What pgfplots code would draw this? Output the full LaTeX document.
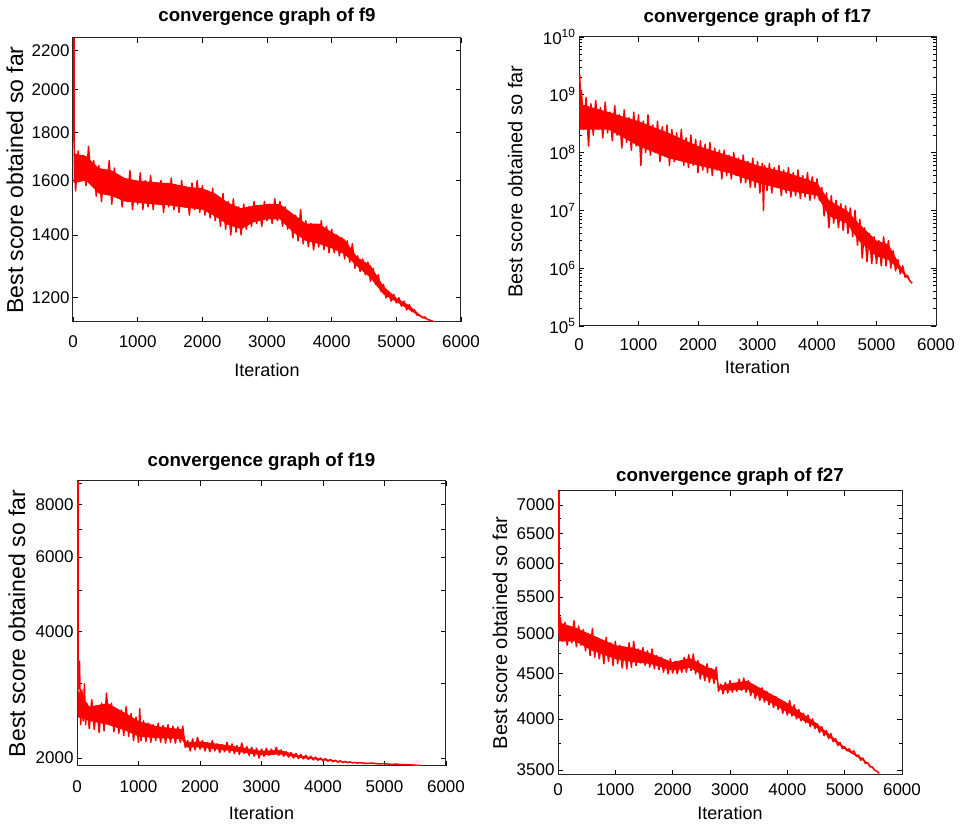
\documentclass[border=0pt]{standalone}
\usepackage{fontspec}
\setmainfont{Liberation Sans}
\usepackage{pgfplots}
\pgfplotsset{compat=1.18}
\pgfplotsset{
  conv/.style={
    scale only axis, anchor=south west, xmin=0, xmax=6000,
    xtick={0,1000,2000,3000,4000,5000,6000},
    /pgf/number format/assume math mode=true,
    /pgf/number format/1000 sep={},
    tick align=inside, major tick length=5pt, minor tick length=3pt,
    axis line style={line width=1pt, black!85},
    every tick/.style={black, line width=0.8pt},
    tick label style={font=\fontsize{17}{17}\selectfont},
    title style={font=\bfseries\fontsize{18.7}{19}\selectfont, anchor=center},
    xlabel style={font=\fontsize{18}{18}\selectfont, anchor=center},
    ylabel style={font=\fontsize{20}{20}\selectfont, anchor=center},
    xlabel=Iteration, ylabel=Best score obtained so far,
  },
  curve/.style={color=red, line width=1.5pt, line join=round, mark=none},
  core/.style={fill=red, draw=none, mark=none},
  spike/.style={color=red, line width=1.2pt, mark=none}
}
\begin{document}
\begin{tikzpicture}
\path[use as bounding box] (0pt,0pt) rectangle (961pt,828pt);

% ---------------- f9 ----------------
\begin{axis}[ymode=log, conv, at={(73pt,506pt)}, width=388pt, height=284pt,
  ymin=1131, ymax=2270, minor ytick={},
  ytick={1200,1400,1600,1800,2000,2200},
  yticklabels={1200,1400,1600,1800,2000,2200},
  xticklabel style={yshift=-10pt},
  title={convergence graph of f9},
  title style={at={(axis description cs:0.5,1.055)}},
  xlabel style={at={(axis description cs:0.5,-0.169)}},
  ylabel style={at={(axis description cs:-0.1495,0.5)}, font=\fontsize{23}{23}\selectfont}]
\addplot[core] coordinates {
(10,1710)(200,1700)(400,1650)(600,1640)(800,1610)(1000,1600)(1200,1595)(1500,1590)(1800,1575)(2000,1570)
(2200,1550)(2400,1515)(2600,1495)(2800,1505)(3000,1510)(3200,1510)(3400,1475)(3600,1440)(3800,1440)(4000,1410)
(4200,1385)(4400,1325)(4600,1300)(4800,1235)(5000,1200)(5200,1178)(5400,1146)(5600,1131)
(5400,1142)(5200,1165)(5000,1188)(4800,1210)(4600,1260)(4400,1295)(4200,1335)(4000,1355)(3800,1370)(3600,1380)
(3400,1410)(3200,1455)(3000,1455)(2800,1445)(2600,1420)(2400,1435)(2200,1465)(2000,1490)(1800,1495)(1500,1505)
(1200,1510)(1000,1515)(800,1520)(600,1540)(400,1550)(200,1600)(10,1590)
};
\addplot[spike] coordinates {(16,2270)(16,1760)};
\addplot[curve] coordinates {
(16,1760)(40,1560)(80,1720)(120,1600)(160,1700)(200,1580)(240,1740)(280,1600)(320,1680)
(360,1540)(400,1660)(440,1520)(480,1640)(520,1560)(560,1680)(600,1510)(640,1650)(680,1540)(720,1620)
(760,1500)(800,1600)(840,1520)(880,1640)(920,1490)(960,1590)(1000,1510)(1040,1630)(1080,1490)(1120,1600)
(1160,1500)(1200,1620)(1240,1490)(1280,1590)(1320,1510)(1360,1600)(1400,1480)(1440,1570)(1480,1500)(1520,1610)
(1560,1490)(1600,1580)(1640,1480)(1680,1600)(1720,1500)(1760,1570)(1800,1470)(1840,1590)(1880,1490)(1920,1600)
(1960,1480)(2000,1580)(2040,1470)(2080,1560)(2120,1460)(2160,1570)(2200,1450)(2240,1540)(2280,1430)(2320,1550)
(2360,1420)(2400,1520)(2440,1400)(2480,1530)(2520,1410)(2560,1500)(2600,1400)(2640,1510)(2680,1420)(2720,1500)
(2760,1430)(2800,1520)(2840,1440)(2880,1500)(2920,1430)(2960,1520)(3000,1450)(3040,1510)(3080,1440)(3120,1530)
(3160,1450)(3200,1520)(3240,1430)(3280,1500)(3320,1420)(3360,1480)(3400,1390)(3440,1470)(3480,1380)(3520,1490)
(3560,1370)(3600,1450)(3640,1360)(3680,1440)(3720,1350)(3760,1420)(3800,1360)(3840,1450)(3880,1350)(3920,1430)
(3960,1340)(4000,1420)(4040,1340)(4080,1400)(4120,1330)(4160,1390)(4200,1320)(4240,1380)(4280,1310)(4320,1370)
(4360,1290)(4400,1330)(4440,1280)(4480,1320)(4520,1270)(4560,1310)(4600,1250)(4640,1290)(4680,1240)(4720,1270)
(4760,1220)(4800,1240)(4840,1200)(4880,1215)(4920,1190)(4960,1210)(5000,1185)(5040,1200)(5080,1175)(5120,1190)
(5160,1165)(5200,1180)(5240,1160)(5280,1165)(5320,1150)(5360,1150)(5400,1143)(5440,1145)(5480,1138)(5520,1136)
(5560,1133)(5600,1131)
};
\end{axis}

% ---------------- f17 ----------------
\begin{axis}[ymode=log, conv, at={(579pt,502pt)}, width=357pt, height=289pt,
  ymin=1e5, ymax=1e10,
  ytick={1e5,1e6,1e7,1e8,1e9,1e10},
  yticklabels={10\textsuperscript{5},10\textsuperscript{6},10\textsuperscript{7},10\textsuperscript{8},10\textsuperscript{9},10\textsuperscript{10}},
  xticklabel style={yshift=-9pt},
  title={convergence graph of f17},
  title style={at={(axis description cs:0.5,1.045)}},
  xlabel style={at={(axis description cs:0.5,-0.142)}},
  ylabel style={at={(axis description cs:-0.179,0.5)}}]
\addplot[core] coordinates {
(10,7e8)(500,5e8)(1000,3.5e8)(1500,2.2e8)(2000,1.3e8)(2500,9e7)(3000,6e7)(3500,4.5e7)(4000,3e7)(4200,1.5e7)
(4500,1e7)(4700,6e6)(5000,3e6)(5200,2.6e6)(5400,1.1e6)(5600,5.5e5)
(5400,9e5)(5200,1.4e6)(5000,1.6e6)(4700,3e6)(4500,6e6)(4200,8e6)(4000,1.8e7)(3500,2.2e7)(3000,3e7)(2500,4.5e7)
(2000,6e7)(1500,8e7)(1000,1.3e8)(500,2.5e8)(10,2.5e8)
};
\addplot[curve] coordinates {
(16,2.2e9)(20,4e8)(40,1.2e9)(80,2.5e8)(120,9e8)(160,1.3e8)(200,7e8)(240,2e8)(280,8e8)(320,2.5e8)
(360,6e8)(400,1.8e8)(440,7.5e8)(480,2.2e8)(520,5e8)(560,1.6e8)(600,6.5e8)(640,2e8)(680,4.5e8)(720,1.2e8)
(760,5.5e8)(800,1.5e8)(840,4e8)(880,1.1e8)(920,5e8)(960,1.3e8)(1000,4.5e8)(1040,6e7)(1080,3.5e8)(1120,1e8)
(1160,4.5e8)(1200,9e7)(1240,3e8)(1280,1e8)(1320,3.5e8)(1360,7e7)(1400,2.8e8)(1440,9e7)(1480,3e8)(1520,6e7)
(1560,2.5e8)(1600,7e7)(1640,2.2e8)(1680,8e7)(1720,2.5e8)(1760,6e7)(1800,1.8e8)(1840,5.5e7)(1880,2e8)(1920,6e7)
(1960,1.7e8)(2000,4.5e7)(2040,1.6e8)(2080,5e7)(2120,1.4e8)(2160,4.5e7)(2200,1.5e8)(2240,4e7)(2280,1.2e8)(2320,5e7)
(2360,1.1e8)(2400,3.5e7)(2440,1.1e8)(2480,4e7)(2520,9e7)(2560,3.5e7)(2600,1e8)(2640,4e7)(2680,8e7)(2720,3e7)
(2760,9e7)(2800,3e7)(2840,7e7)(2880,2.5e7)(2920,8e7)(2960,2.5e7)(3000,7e7)(3040,2e7)(3080,6.5e7)(3100,1e7)
(3120,6e7)(3160,2.2e7)(3200,6.5e7)(3240,2e7)(3280,5.5e7)(3320,2.5e7)(3360,6e7)(3400,1.8e7)(3440,5e7)(3480,2e7)
(3520,5.5e7)(3560,1.7e7)(3600,4.5e7)(3640,1.8e7)(3680,5e7)(3720,1.6e7)(3760,4e7)(3800,1.7e7)(3840,4.5e7)(3880,1.5e7)
(3920,3.8e7)(3960,1.6e7)(4000,3.5e7)(4040,1.5e7)(4080,2.5e7)(4120,8e6)(4160,2e7)(4200,5e6)(4240,1.8e7)(4280,6e6)
(4320,1.5e7)(4360,5e6)(4400,1.3e7)(4440,4.5e6)(4480,1.2e7)(4520,4e6)(4560,1.1e7)(4600,3.5e6)(4640,1e7)(4680,2.5e6)
(4720,7e6)(4760,1.5e6)(4800,5e6)(4840,1.3e6)(4880,4e6)(4920,1.2e6)(4960,3.5e6)(5000,1.2e6)(5040,3e6)(5080,1.1e6)
(5120,3.5e6)(5160,1.1e6)(5200,3e6)(5240,1e6)(5280,2e6)(5320,9e5)(5360,1.4e6)(5400,8e5)(5440,1.1e6)(5480,7e5)
(5520,7.5e5)(5560,6e5)(5600,5.5e5)
};
\end{axis}

% ---------------- f19 ----------------
\begin{axis}[ymode=log, conv, at={(77pt,62pt)}, width=369pt, height=285pt,
  ymin=1915, ymax=9100, minor ytick={},
  ytick={2000,3000,4000,5000,6000,7000,8000,9000},
  yticklabels={2000,,4000,,6000,,8000,},
  xticklabel style={yshift=-11pt},
  title={convergence graph of f19},
  title style={at={(axis description cs:0.5,1.046)}},
  xlabel style={at={(axis description cs:0.5,-0.165)}},
  ylabel style={at={(axis description cs:-0.1626,0.5)}, font=\fontsize{23}{23}\selectfont}]
\addplot[core] coordinates {
(10,2900)(200,2650)(500,2700)(800,2550)(1000,2450)(1300,2380)(1700,2340)(1780,2180)(2000,2190)(2500,2140)
(3000,2080)(3300,2090)(3600,2030)(4000,1990)(4500,1952)(5600,1920)
(4500,1948)(4000,1975)(3600,2005)(3300,2040)(3000,2030)(2500,2080)(2000,2120)(1780,2120)(1700,2220)(1300,2230)
(1000,2250)(800,2320)(500,2400)(200,2450)(10,2500)
};
\addplot[spike] coordinates {(16,9100)(16,2900)};
\addplot[curve] coordinates {
(16,2900)(40,3400)(60,2400)(80,2900)(100,2450)(120,3000)(140,2400)(160,2700)(200,2350)
(240,2750)(280,2340)(320,2650)(360,2300)(400,2700)(440,2320)(480,2850)(520,2400)(560,2700)(600,2310)
(640,2620)(680,2290)(720,2600)(760,2260)(800,2650)(840,2250)(880,2550)(920,2200)(960,2500)(1000,2180)
(1020,2620)(1040,2200)(1080,2450)(1120,2190)(1160,2420)(1200,2180)(1240,2400)(1280,2200)(1320,2420)(1360,2180)
(1400,2390)(1440,2170)(1480,2400)(1520,2180)(1560,2380)(1600,2170)(1640,2370)(1680,2180)(1720,2380)(1760,2120)
(1800,2200)(1840,2080)(1880,2220)(1920,2090)(1960,2240)(2000,2100)(2040,2200)(2080,2080)(2120,2180)(2160,2070)
(2200,2200)(2240,2080)(2280,2160)(2320,2060)(2360,2150)(2400,2070)(2440,2180)(2480,2060)(2520,2160)(2560,2050)
(2600,2140)(2640,2040)(2680,2170)(2720,2050)(2760,2130)(2800,2030)(2840,2120)(2880,2020)(2920,2110)(2960,2000)
(3000,2100)(3040,2020)(3080,2110)(3120,2030)(3160,2100)(3200,2040)(3240,2120)(3280,2030)(3320,2090)(3360,2020)
(3400,2070)(3440,2010)(3480,2060)(3520,2000)(3560,2050)(3600,1995)(3640,2040)(3680,1990)(3720,2030)(3760,1985)
(3800,2020)(3840,1980)(3880,2010)(3920,1975)(3960,2000)(4000,1970)(4040,1995)(4080,1965)(4120,1985)(4160,1960)
(4200,1975)(4240,1955)(4280,1970)(4320,1952)(4360,1962)(4400,1950)(4440,1958)(4480,1948)(4520,1952)(4560,1945)
(4600,1950)(4700,1942)(4800,1945)(4900,1937)(5000,1940)(5100,1932)(5200,1934)(5300,1928)(5400,1928)(5500,1923)
(5600,1920)
};
\end{axis}

% ---------------- f27 ----------------
\begin{axis}[ymode=log, conv, at={(558pt,53pt)}, width=344pt, height=284pt,
  ymin=3455, ymax=7260,
  ytick={3500,4000,4500,5000,5500,6000,6500,7000},
  yticklabels={3500,4000,4500,5000,5500,6000,6500,7000},
  minor ytick={3750,4250,4750,5250,5750,6250,6750},
  xticklabel style={yshift=-5pt},
  title={convergence graph of f27},
  title style={at={(axis description cs:0.5,1.028)}},
  xlabel style={at={(axis description cs:0.5,-0.134)}},
  ylabel style={at={(axis description cs:-0.1686,0.5)}}]
\addplot[core] coordinates {
(10,5150)(300,5080)(600,4980)(1000,4850)(1300,4820)(1600,4750)(2000,4640)(2300,4690)(2600,4580)(2770,4540)
(2800,4360)(3000,4390)(3300,4420)(3600,4310)(4000,4170)(4500,3960)(5000,3715)(5300,3615)(5600,3470)
(5300,3595)(5000,3695)(4500,3915)(4000,4070)(3600,4210)(3300,4320)(3000,4310)(2800,4320)(2770,4430)(2600,4460)
(2300,4570)(2000,4540)(1600,4620)(1300,4640)(1000,4680)(600,4780)(300,4900)(10,4900)
};
\addplot[spike] coordinates {(16,7260)(16,5000)};
\addplot[curve] coordinates {
(16,5000)(40,5220)(80,4900)(120,5150)(160,4850)(200,5050)(240,4880)(280,5170)(320,4830)
(360,5100)(400,4850)(440,5050)(480,4780)(520,5000)(560,4720)(600,5070)(640,4700)(680,4950)(720,4680)
(760,4900)(800,4620)(840,4950)(880,4650)(920,4880)(960,4600)(1000,4900)(1040,4620)(1080,4850)(1120,4570)
(1160,4820)(1200,4560)(1240,4880)(1280,4580)(1320,4900)(1360,4600)(1400,4800)(1440,4630)(1480,4820)(1520,4600)
(1560,4780)(1600,4580)(1640,4800)(1680,4560)(1720,4720)(1760,4550)(1800,4700)(1840,4520)(1880,4660)(1920,4500)
(1960,4680)(2000,4510)(2040,4650)(2080,4500)(2120,4620)(2160,4520)(2200,4700)(2240,4520)(2280,4730)(2320,4540)
(2360,4740)(2400,4500)(2440,4660)(2480,4440)(2520,4600)(2560,4420)(2600,4620)(2640,4400)(2680,4560)(2720,4390)
(2760,4580)(2800,4300)(2840,4380)(2880,4270)(2920,4400)(2960,4280)(3000,4420)(3040,4290)(3080,4380)(3120,4300)
(3160,4440)(3200,4310)(3240,4450)(3280,4290)(3320,4420)(3360,4250)(3400,4370)(3440,4220)(3480,4320)(3520,4200)
(3560,4340)(3600,4180)(3640,4300)(3680,4150)(3720,4260)(3760,4120)(3800,4240)(3840,4100)(3880,4200)(3920,4060)
(3960,4180)(4000,4040)(4040,4200)(4080,4030)(4120,4150)(4160,4000)(4200,4100)(4240,3980)(4280,4060)(4320,3960)
(4360,4040)(4400,3920)(4440,4000)(4480,3900)(4520,3950)(4560,3860)(4600,3920)(4640,3830)(4680,3880)(4720,3800)
(4760,3850)(4800,3770)(4840,3800)(4880,3730)(4920,3760)(4960,3700)(5000,3720)(5040,3680)(5080,3700)(5120,3660)
(5160,3680)(5200,3630)(5240,3640)(5280,3590)(5320,3610)(5360,3560)(5400,3570)(5440,3530)(5480,3530)(5520,3500)
(5560,3490)(5600,3470)
};
\end{axis}
\end{tikzpicture}
\end{document}
